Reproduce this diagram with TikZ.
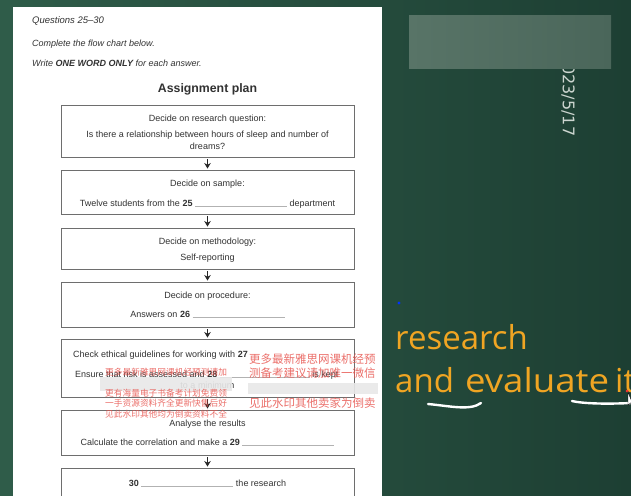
\documentclass[tikz,border=0pt]{standalone}
\usepackage{fontspec}
\setmainfont{Liberation Sans}
\newfontfamily\cjk{Noto Sans CJK SC}
\newfontfamily\osans{Open Sans}
\newfontfamily\dvsans{DejaVu Sans}
\usetikzlibrary{arrows.meta}
\definecolor{bgleft}{RGB}{47,92,73}
\definecolor{bgright}{RGB}{29,63,51}
\definecolor{ink}{RGB}{50,50,50}
\definecolor{boxline}{RGB}{110,110,110}
\definecolor{wmred}{RGB}{232,86,80}
\definecolor{slideorange}{RGB}{240,165,35}
\definecolor{datecol}{RGB}{205,214,208}
\definecolor{blurA}{RGB}{88,116,103}
\definecolor{blurB}{RGB}{74,102,90}
\newcommand{\blank}[1]{\textcolor{gray!60}{\rule{#1}{0.4pt}}}
\newcommand{\fs}[1]{\fontsize{#1}{#1}\selectfont}

\begin{document}
\begin{tikzpicture}[x=1pt,y=-1pt,
  stepbox/.style={draw=boxline,line width=0.9pt,minimum width=293pt,inner sep=0pt},
  boxtext/.style={text=ink,font=\fs{9},inner sep=0pt,anchor=base},
  headtext/.style={text=ink,font=\fs{9}\itshape,inner sep=0pt,anchor=base west},
  flowarrow/.style={-{Stealth[length=5.5pt,width=6.5pt]},line width=1.5pt,black!85,shorten <=2pt,shorten >=1pt},
  wmark/.style={text=wmred,opacity=0.85,inner sep=0pt,anchor=base west},
  blur/.style={fill=gray!18,opacity=0.9}]
\useasboundingbox (0,0) rectangle (631,495);
% background and paper:
\fill[left color=bgleft,right color=bgright] (0,0) rectangle (631,495);
\fill[white] (13,7) rectangle (382,500);
% heading:
\node[headtext,font=\fs{9.5}\itshape] (qhead) at (32,23.5) {Questions 25--30};
\node[headtext] (qtask) at (32,46.5) {Complete the flow chart below.};
\node[headtext] (qrule) at (32,66.5) {Write \textbf{ONE WORD ONLY} for each answer.};
\node[text=ink,font=\fs{12.3}\bfseries,inner sep=0pt,anchor=base] (title) at (207.5,92.5) {Assignment plan};
% boxes:
\node[stepbox,minimum height=52pt] (question) at (207.5,131) {};
\node[stepbox,minimum height=44pt] (sample) at (207.5,192) {};
\node[stepbox,minimum height=41pt] (method) at (207.5,248.5) {};
\node[stepbox,minimum height=45pt] (procedure) at (207.5,304.5) {};
\node[stepbox,minimum height=58pt] (ethics) at (207.5,368) {};
\node[stepbox,minimum height=45pt] (analyse) at (207.5,432.5) {};
\node[stepbox,minimum height=42pt] (evaluate) at (207.5,489) {};
% box texts:
\node[boxtext] (q1) at (207.5,121) {Decide on research question:};
\node[boxtext] (q2) at (207.5,137) {Is there a relationship between hours of sleep and number of};
\node[boxtext] (q3) at (207.5,149) {dreams?};
\node[boxtext] (s1) at (207.5,186) {Decide on sample:};
\node[boxtext] (s2) at (207.5,206) {Twelve students from the \textbf{25} \blank{92pt} department};
\node[boxtext] (m1) at (207.5,244) {Decide on methodology:};
\node[boxtext] (m2) at (207.5,260) {Self-reporting};
\node[boxtext] (p1) at (207.5,298) {Decide on procedure:};
\node[boxtext] (p2) at (207.5,317) {Answers on \textbf{26} \blank{92pt}};
\node[boxtext,anchor=base west] (e1) at (73,357) {Check ethical guidelines for working with \textbf{27}};
\node[boxtext,anchor=base west] (e2) at (75,377) {Ensure that risk is assessed and \textbf{28} \blank{90pt} is kept};
\node[boxtext] (e3) at (207.5,388) {to a minimum};
\node[boxtext] (a1) at (207.5,426) {Analyse the results};
\node[boxtext] (a2) at (207.5,445) {Calculate the correlation and make a \textbf{29} \blank{92pt}};
\node[boxtext] (v1) at (207.5,486) {\textbf{30} \blank{92pt} the research};
% arrows:
\draw[flowarrow] (question) -- (sample);
\draw[flowarrow] (sample) -- (method);
\draw[flowarrow] (method) -- (procedure);
\draw[flowarrow] (procedure) -- (ethics);
\draw[flowarrow] (ethics) -- (analyse);
\draw[flowarrow] (analyse) -- (evaluate);
% blurred bands:
\fill[blur] (100,377) rectangle (232,391);
\fill[blur] (248,383) rectangle (378,394);
% watermark, right:
\node[wmark,font=\cjk\fs{11.5}] (wr1) at (249,363.5) {更多最新雅思网课机经预};
\node[wmark,font=\cjk\fs{11.5}] (wr2) at (249,377.5) {测备考建议请加唯一微信};
\node[wmark,font=\cjk\fs{11.5}] (wr3) at (249,407.5) {见此水印其他卖家为倒卖};
% watermark, left:
\node[wmark,font=\cjk\fs{8.7}] (wl1) at (105,375.3) {更多最新雅思网课机经预测请加};
\node[wmark,font=\cjk\fs{8.7}] (wl2) at (105,396.3) {更有海量电子书备考计划免费领};
\node[wmark,font=\cjk\fs{8.7}] (wl3) at (105,406.3) {一手资源资料齐全更新快售后好};
\node[wmark,font=\cjk\fs{8.7}] (wl4) at (105,417.3) {见此水印其他均为倒卖资料不全};
% slide side:
\node[rotate=-90,anchor=west,font=\dvsans\fs{16},text=datecol,inner sep=0pt] (date) at (568,54) {2023/5/17};
\fill[left color=blurA,right color=blurB] (409,16) rectangle (611,68);
\fill[blue!80!cyan] (399,303) circle (1.6);
\node[anchor=base west,font=\osans\fs{33},text=slideorange,inner sep=0pt] (res) at (395,349) {research};
\node[anchor=base west,font=\osans\fs{33},text=slideorange,inner sep=0pt] (evl) at (395,392)
  {and\hspace{11pt}\scalebox{1.11}[1]{evaluate}\hspace{6pt}it};
\draw[white,line width=2.4pt,line cap=round] (428,404) .. controls (450,406) and (470,411) .. (481,403);
\draw[white,line width=2.4pt,line cap=round] (572,401) .. controls (585,404) and (610,404) .. (631,403);
\fill[red!80] (627,391) circle (1.5);
\draw[fill=white,line width=0.4pt] (628,392) -- (628,405) -- (632,402) -- cycle;
\end{tikzpicture}
\end{document}
